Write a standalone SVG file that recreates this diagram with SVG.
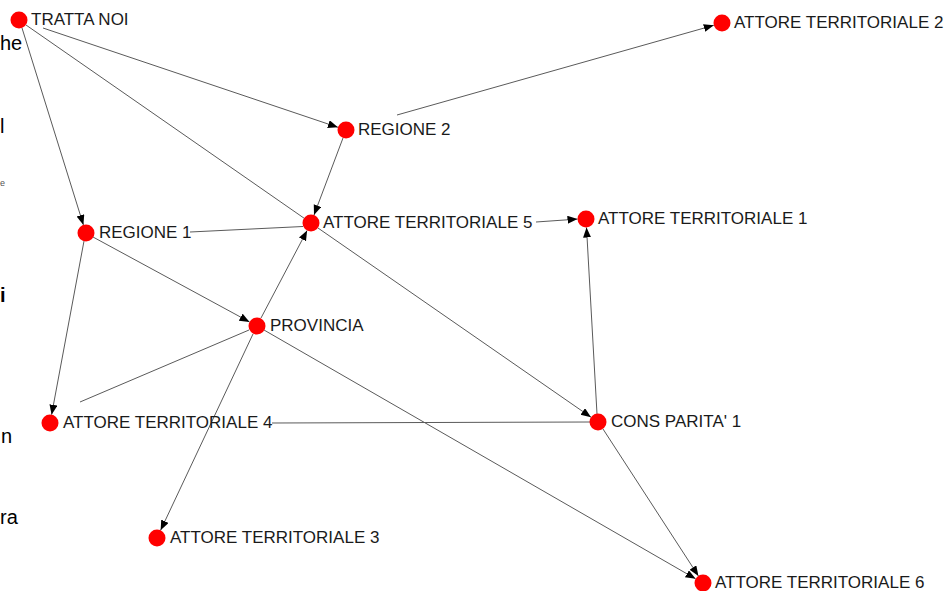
<svg xmlns="http://www.w3.org/2000/svg" width="948" height="591" viewBox="0 0 948 591">
<defs>
<marker id="arr" markerUnits="userSpaceOnUse" markerWidth="12" markerHeight="10" refX="10" refY="4" orient="auto">
<path d="M0,0 L10,4 L0,8 z" fill="#000"/>
</marker>
<style>
.e{stroke:#5a5a5a;stroke-width:1;fill:none}
.a{marker-end:url(#arr)}
.n{fill:#ff0000}
.t{font-family:"Liberation Sans",Arial,sans-serif;font-size:17px;fill:#1a1a1a}
.f{font-family:"Liberation Sans",Arial,sans-serif;font-size:20px;fill:#000}
</style>
</defs>
<rect width="948" height="591" fill="#fff"/>
<g id="fragments">
<text class="f" x="0" y="50">he</text>
<text class="f" x="0" y="133">l</text>
<text class="f" x="0" y="186" style="font-size:9px;fill:#555">e</text>
<text class="f" x="0" y="302" style="font-weight:bold">i</text>
<text class="f" x="1" y="443">n</text>
<text class="f" x="0" y="524">ra</text>
</g>
<g id="connectors">
<line class="e a" x1="43" y1="28" x2="337.9" y2="127.3"/>
<line class="e a" x1="22" y1="28" x2="83.4" y2="224.9"/>
<line class="e" x1="26" y1="25" x2="311" y2="223"/>
<line class="e a" x1="318" y1="228" x2="591" y2="417.2"/>
<line class="e a" x1="397" y1="115" x2="713.8" y2="25.3"/>
<line class="e a" x1="343" y1="138" x2="314" y2="215"/>
<line class="e a" x1="536" y1="222" x2="577.5" y2="219.1"/>
<line class="e" x1="190" y1="232" x2="303" y2="226.5"/>
<line class="e a" x1="93" y1="237" x2="249.5" y2="321.9"/>
<line class="e a" x1="84" y1="241" x2="51.6" y2="414.7"/>
<line class="e a" x1="261" y1="318" x2="307.1" y2="230.5"/>
<line class="e a" x1="253" y1="334" x2="160.6" y2="530.3"/>
<line class="e a" x1="264" y1="330" x2="695.6" y2="578.8"/>
<line class="e a" x1="603" y1="429" x2="698.4" y2="575.9"/>
<line class="e a" x1="597" y1="414" x2="586.5" y2="227.5"/>
<line class="e" x1="249" y1="330" x2="80" y2="402"/>
<line class="e" x1="272" y1="423" x2="590" y2="422"/>
</g>
<g id="tratta-noi"><circle class="n" cx="19" cy="20" r="8.5"/><text class="t" x="31" y="25">TRATTA NOI</text></g>
<g id="attore-2"><circle class="n" cx="722" cy="23" r="8.5"/><text class="t" x="734" y="28">ATTORE TERRITORIALE 2</text></g>
<g id="regione-2"><circle class="n" cx="346" cy="130" r="8.5"/><text class="t" x="358" y="135">REGIONE 2</text></g>
<g id="attore-5"><circle class="n" cx="311" cy="223" r="8.5"/><text class="t" x="323" y="228">ATTORE TERRITORIALE 5</text></g>
<g id="attore-1"><circle class="n" cx="586" cy="219" r="8.5"/><text class="t" x="598" y="224">ATTORE TERRITORIALE 1</text></g>
<g id="regione-1"><circle class="n" cx="86" cy="233" r="8.5"/><text class="t" x="99" y="238">REGIONE 1</text></g>
<g id="provincia"><circle class="n" cx="257" cy="326" r="8.5"/><text class="t" x="270" y="331">PROVINCIA</text></g>
<g id="attore-4"><circle class="n" cx="50" cy="423" r="8.5"/><text class="t" x="63" y="428">ATTORE TERRITORIALE 4</text></g>
<g id="cons-parita-1"><circle class="n" cx="598" cy="422" r="8.5"/><text class="t" x="611" y="427">CONS PARITA' 1</text></g>
<g id="attore-3"><circle class="n" cx="157" cy="538" r="8.5"/><text class="t" x="170" y="543">ATTORE TERRITORIALE 3</text></g>
<g id="attore-6"><circle class="n" cx="703" cy="583" r="8.5"/><text class="t" x="715" y="588">ATTORE TERRITORIALE 6</text></g>
</svg>
